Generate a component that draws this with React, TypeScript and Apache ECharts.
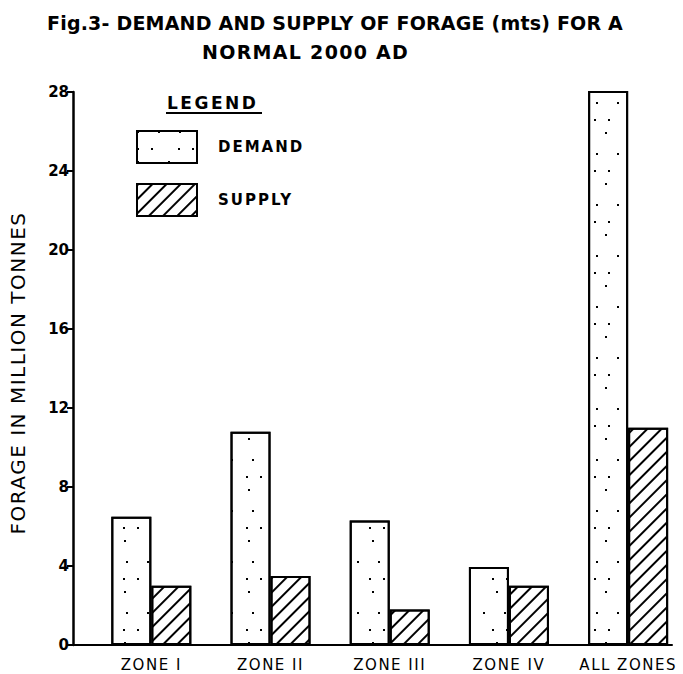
import React, { useEffect, useRef } from 'react';
import * as echarts from 'echarts';

// ---- data ----
const categories = ['ZONE I', 'ZONE II', 'ZONE III', 'ZONE IV', 'ALL ZONES'];
const categoryPositions = [0, 1, 2, 3, 4];
const demand = [6.5, 10.8, 6.3, 3.95, 28.2];
const supply = [3.0, 3.5, 1.8, 3.0, 11.0];
const seriesNames = ['DEMAND', 'SUPPLY'];
const titleLines = ['Fig.3- DEMAND AND SUPPLY OF FORAGE (mts) FOR A', 'NORMAL 2000 AD'];
const yAxisName = 'FORAGE IN MILLION TONNES';
const legendTitle = 'LEGEND';
const yMin = 0;
const yMax = 28;
const yInterval = 4;

const FONT = '"DejaVu Sans", sans-serif';

function spacingFor(t: string): number {
  if (t === yAxisName) return 1.5;
  if (t === titleLines[0]) return 0.2;
  if (t === titleLines[1]) return 1.3;
  if (t === legendTitle) return 2.5;
  if (seriesNames.includes(t)) return 2;
  if (/^\d+$/.test(t)) return 0;
  return 1.5;
}

export default function App() {
  const ref = useRef<HTMLDivElement>(null);
  useEffect(() => {
    if (!ref.current) return;
    const chart = echarts.init(ref.current, null, { renderer: 'svg' });
    const option: any = {
      animation: false,
      backgroundColor: '#fff',
      textStyle: { fontFamily: FONT, color: '#000' },
      title: [
        { text: titleLines[0], left: 42, top: 8, textStyle: { fontSize: 19, fontWeight: 'bold', fontFamily: FONT, color: '#000' } },
        { text: titleLines[1], left: 197, top: 37, textStyle: { fontSize: 19, fontWeight: 'bold', fontFamily: FONT, color: '#000' } },
      ],
      graphic: [
        { type: 'text', left: 167, top: 94, style: { text: legendTitle, fontSize: 17, fontWeight: 'bold', fontFamily: FONT, fill: '#000' } },
        { type: 'line', shape: { x1: 166, y1: 113, x2: 262, y2: 113 }, style: { stroke: '#000', lineWidth: 2 } },
      ],
      legend: {
        orient: 'vertical',
        left: 136,
        top: 130,
        itemWidth: 60,
        itemHeight: 32,
        itemGap: 19,
        padding: 0,
        icon: 'rect',
        selectedMode: false,
        textStyle: { fontSize: 15, fontWeight: 'bold', fontFamily: FONT, color: '#000', padding: [0, 0, 0, 16] },
        data: seriesNames,
      },
      grid: { left: 72, right: 11, top: 92, bottom: 29, containLabel: false },
      xAxis: {
        type: 'value',
        min: -0.657,
        max: 4.368,
        splitLine: { show: false },
        axisLine: { show: true, onZero: false, lineStyle: { color: '#000', width: 2 } },
        axisTick: { show: false },
        axisLabel: {
          customValues: categoryPositions,
          formatter: (v: number) => categories[Math.round(v)] ?? '',
          fontSize: 15,
          fontFamily: FONT,
          color: '#000',
          margin: 12,
        },
      },
      yAxis: {
        type: 'value',
        min: yMin,
        max: yMax,
        interval: yInterval,
        name: yAxisName,
        nameLocation: 'middle',
        nameGap: 45,
        nameTextStyle: { fontSize: 20, fontFamily: FONT, color: '#000', padding: [0, 9, 0, 0] },
        splitLine: { show: false },
        axisLine: { show: true, onZero: false, lineStyle: { color: '#000', width: 2.5 } },
        axisTick: { show: true, length: 6, lineStyle: { color: '#000', width: 2 } },
        axisLabel: { fontSize: 15, fontWeight: 'bold', fontFamily: FONT, color: '#000', margin: 4 },
      },
      series: [
        {
          name: seriesNames[0],
          type: 'bar',
          barWidth: 40,
          barGap: '0%',
          data: demand.map((v, i) => [categoryPositions[i], v]),
          itemStyle: {
            color: '#fff',
            borderColor: '#000',
            borderWidth: 2,
            decal: {
              symbol: 'rect',
              symbolSize: 1,
              color: '#000',
              dashArrayX: [[1.6, 19], [1.6, 12, 1.6, 25], [1.6, 29]],
              dashArrayY: [1.6, 15, 1.6, 11, 1.6, 19],
              rotation: 0,
            },
          },
        },
        {
          name: seriesNames[1],
          type: 'bar',
          barWidth: 40,
          barGap: '0%',
          data: supply.map((v, i) => [categoryPositions[i], v]),
          itemStyle: {
            color: '#fff',
            borderColor: '#000',
            borderWidth: 2,
            decal: {
              symbol: 'rect',
              symbolSize: 1,
              color: '#000',
              dashArrayX: [1, 0],
              dashArrayY: [1.4, 8],
              rotation: -Math.PI / 4,
            },
          },
        },
      ],
    };
    chart.setOption(option);
    const applySpacing = () => {
      const dom = ref.current;
      if (!dom) return;
      dom.querySelectorAll('text').forEach((el) => {
        const t = (el.textContent || '').trim();
        (el as SVGTextElement).style.letterSpacing = spacingFor(t) + 'px';
      });
    };
    applySpacing();
    chart.on('finished', applySpacing);
    const timer = setTimeout(applySpacing, 50);
    return () => {
      clearTimeout(timer);
      chart.dispose();
    };
  }, []);
  return (
    <div style={{ position: 'fixed', left: 0, top: 0, width: 683, height: 674, background: '#fff' }}>
      <div ref={ref} style={{ width: 683, height: 674 }} />
    </div>
  );
}
